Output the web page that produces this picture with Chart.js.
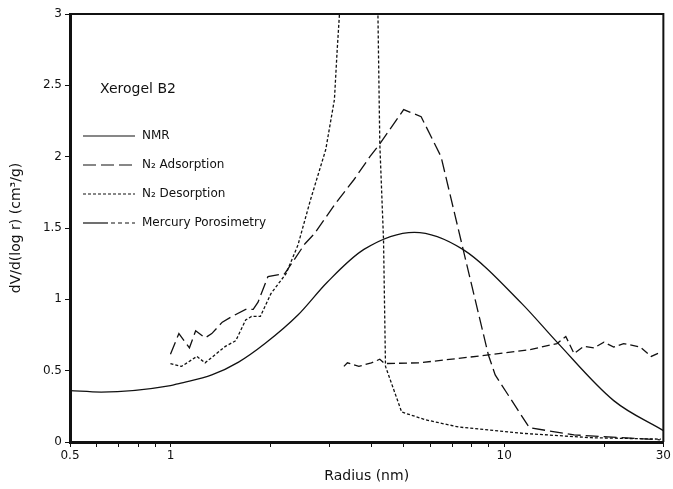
<!DOCTYPE html>
<html>
<head>
<meta charset="utf-8">
<script src="https://cdn.jsdelivr.net/npm/chart.js@4/dist/chart.umd.min.js"></script>
<style>
  html, body { margin: 0; padding: 0; background: #fff; }
  #wrap { width: 673px; height: 489px; }
</style>
</head>
<body>
<div id="wrap"><canvas id="myChart" width="673" height="489"></canvas></div>
<script>
// Datos (radio en nm, dV/d(log r) en cm3/g)
const radioNMR = [0.5, 0.62, 1.0, 1.06, 1.33, 1.6, 1.92, 2.41, 2.95, 3.8, 5.38, 7.52, 11.3, 14.4, 21.3, 30];
const valoresNMR = [0.36, 0.35, 0.395, 0.41, 0.47, 0.56, 0.69, 0.89, 1.12, 1.35, 1.47, 1.35, 0.97, 0.70, 0.29, 0.08];

const radioAds = [1.0, 1.06, 1.14, 1.19, 1.27, 1.33, 1.43, 1.53, 1.68, 1.77, 1.83, 1.96, 2.2, 2.53, 2.7, 3.12, 3.55, 3.96, 4.24, 5.0, 5.64, 6.47, 7.5, 8.97, 9.4, 11.9, 16.2, 29.3];
const valoresAds = [0.615, 0.76, 0.66, 0.78, 0.73, 0.76, 0.84, 0.88, 0.93, 0.93, 0.98, 1.16, 1.18, 1.39, 1.46, 1.67, 1.84, 2.0, 2.09, 2.33, 2.28, 2.0, 1.37, 0.61, 0.47, 0.1, 0.05, 0.015];

const radioDes = [1.0, 1.08, 1.2, 1.27, 1.46, 1.57, 1.68, 1.75, 1.86, 2.0, 2.22, 2.41, 2.63, 2.92, 3.1, 3.16, 3.21, 3.3, 4.15, 4.24, 4.35, 4.41, 4.93, 5.83, 7.3, 11.5, 18.2, 29.5];
const valoresDes = [0.55, 0.53, 0.6, 0.555, 0.67, 0.71, 0.855, 0.88, 0.88, 1.04, 1.18, 1.38, 1.7, 2.05, 2.4, 2.75, 3.0, 3.6, 3.6, 2.09, 1.42, 0.53, 0.21, 0.155, 0.105, 0.06, 0.03, 0.02];

const radioHg = [3.31, 3.39, 3.67, 4.0, 4.24, 4.38, 5.56, 8.97, 11.8, 14.4, 15.3, 16.2, 17.3, 18.6, 19.9, 21.3, 22.8, 25.6, 27.6, 29.5];
const valoresHg = [0.53, 0.555, 0.53, 0.555, 0.58, 0.55, 0.555, 0.61, 0.645, 0.69, 0.74, 0.62, 0.67, 0.66, 0.70, 0.665, 0.69, 0.665, 0.60, 0.63];

// Ticks del eje x (log) y etiquetas visibles
const ticksX = [0.5, 0.6, 0.7, 0.8, 0.9, 1, 2, 3, 4, 5, 6, 7, 8, 9, 10, 20, 30];
const etiquetasX = ['0.5', '1', '10', '30'];
const ticksY = [0, 0.5, 1, 1.5, 2, 2.5, 3];

const nombres = ['NMR', 'N\u2082 Adsorption', 'N\u2082 Desorption', 'Mercury Porosimetry'];
const titulo = 'Xerogel B2';

function puntos(xs, ys) {
    return xs.map((x, i) => ({ x: x, y: ys[i] }));
}

const estilos = [[], [13, 5], [3, 2], [8, 4]];
const fuente = "'DejaVu Sans', sans-serif";

// Leyenda dibujada dentro del area del grafico
const leyenda = {
    id: 'leyenda',
    afterDraw(chart) {
        const ctx = chart.ctx;
        const a = chart.chartArea;
        ctx.save();
        // marco superior y derecho
        ctx.strokeStyle = '#111';
        ctx.lineWidth = 2;
        ctx.beginPath();
        ctx.moveTo(a.left, a.top);
        ctx.lineTo(a.right, a.top);
        ctx.lineTo(a.right, a.bottom);
        ctx.stroke();

        ctx.fillStyle = '#111';
        ctx.textBaseline = 'middle';
        ctx.font = '14px ' + fuente;
        ctx.fillText(titulo, a.left + 30, a.top + 75);
        ctx.font = '12px ' + fuente;
        nombres.forEach((n, i) => {
            const y = a.top + 122 + i * 29;
            ctx.lineWidth = 1.2;
            if (i === 3) {
                // muestra mixta: tramo largo y luego guiones cortos
                ctx.beginPath();
                ctx.moveTo(a.left + 13, y);
                ctx.lineTo(a.left + 38, y);
                ctx.stroke();
                ctx.setLineDash([4, 3]);
                ctx.beginPath();
                ctx.moveTo(a.left + 41, y);
                ctx.lineTo(a.left + 65, y);
                ctx.stroke();
            } else {
                ctx.setLineDash(estilos[i]);
                ctx.beginPath();
                ctx.moveTo(a.left + 13, y);
                ctx.lineTo(a.left + 65, y);
                ctx.stroke();
            }
            ctx.setLineDash([]);
            ctx.fillText(n, a.left + 72, y);
        });
        ctx.restore();
    }
};

function serie(label, xs, ys, dash, suave) {
    return {
        label: label,
        data: puntos(xs, ys),
        borderColor: '#111',
        borderWidth: 1.3,
        borderDash: dash,
        pointRadius: 0,
        fill: false,
        tension: 0,
        cubicInterpolationMode: suave ? 'monotone' : 'default'
    };
}

new Chart(document.getElementById('myChart'), {
    type: 'line',
    data: {
        datasets: [
            serie(nombres[0], radioNMR, valoresNMR, estilos[0], true),
            serie(nombres[1], radioAds, valoresAds, estilos[1], false),
            serie(nombres[2], radioDes, valoresDes, estilos[2], false),
            serie(nombres[3], radioHg, valoresHg, estilos[3], false)
        ]
    },
    options: {
        responsive: false,
        animation: false,
        layout: { padding: { top: 14, right: 3, left: 4, bottom: 0 } },
        plugins: {
            legend: { display: false },
            tooltip: { enabled: false }
        },
        scales: {
            x: {
                type: 'logarithmic',
                min: 0.5,
                max: 30,
                afterBuildTicks: s => { s.ticks = ticksX.map(v => ({ value: v })); },
                afterFit: s => { s.height = 47; },
                ticks: {
                    autoSkip: false,
                    maxRotation: 0,
                    color: '#111',
                    font: { family: fuente, size: 12 },
                    padding: 2,
                    callback: v => etiquetasX.includes(String(v)) ? String(v) : ''
                },
                grid: { drawOnChartArea: false, drawTicks: true, tickLength: 5, color: '#111' },
                border: { color: '#111', width: 3 },
                title: {
                    display: true,
                    text: 'Radius (nm)',
                    color: '#111',
                    font: { family: fuente, size: 14 },
                    padding: { top: 4 }
                }
            },
            y: {
                min: 0,
                max: 3,
                afterBuildTicks: s => { s.ticks = ticksY.map(v => ({ value: v })); },
                afterFit: s => { s.width = 66; },
                ticks: {
                    color: '#111',
                    font: { family: fuente, size: 12 },
                    padding: 3,
                    callback: v => String(v)
                },
                grid: { drawOnChartArea: false, drawTicks: true, tickLength: 5, color: '#111' },
                border: { color: '#111', width: 3 },
                title: {
                    display: true,
                    text: 'dV/d(log r) (cm\u00B3/g)',
                    color: '#111',
                    font: { family: fuente, size: 14 },
                    padding: { bottom: 4 }
                }
            }
        }
    },
    plugins: [leyenda]
});
</script>
</body>
</html>
